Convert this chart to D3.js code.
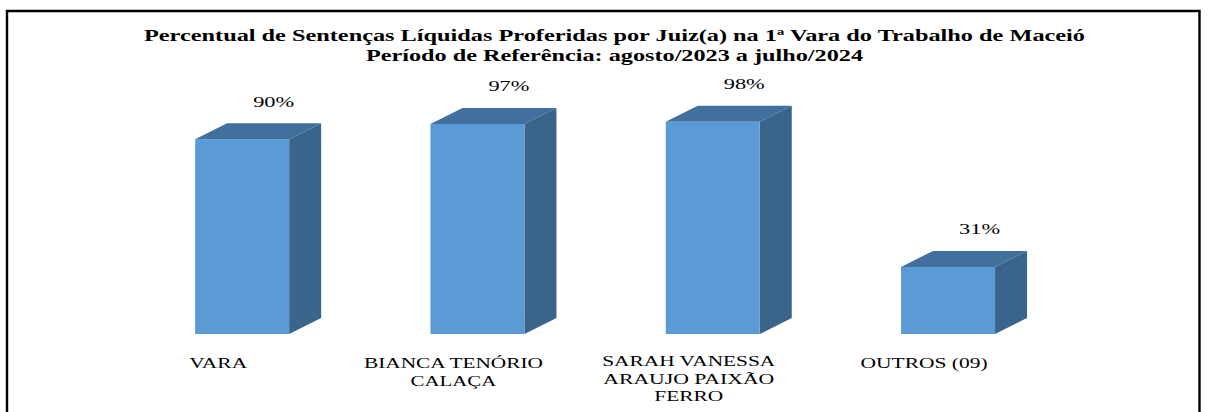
<!DOCTYPE html>
<html><head><meta charset="utf-8">
<script src="https://cdn.jsdelivr.net/npm/d3@7"></script>
<style>html,body{margin:0;padding:0;background:#fff}svg{display:block}text{font-family:"Liberation Serif",serif;fill:#000}</style>
</head><body><svg id="c" width="1209" height="412"></svg>
<script>
const categories = ["VARA", "BIANCA TENÓRIO CALAÇA", "SARAH VANESSA ARAUJO PAIXÃO FERRO", "OUTROS (09)"];
const values = [90, 97, 98, 31];
const valueLabels = ["90%", "97%", "98%", "31%"];
const categoryLines = [["VARA"], ["BIANCA TENÓRIO", "CALAÇA"], ["SARAH VANESSA", "ARAUJO PAIXÃO", "FERRO"], ["OUTROS (09)"]];
const titleLines = ["Percentual de Sentenças Líquidas Proferidas por Juiz(a) na 1ª Vara do Trabalho de Maceió", "Período de Referência: agosto/2023 a julho/2024"];

const W = 1209, H = 412;
const svg = d3.select("#c");
const plot = {left: 124.5, top: 117.5, bottom: 334};
const x = d3.scaleBand().domain(categories).range([plot.left, plot.left + 4 * 235.3]).paddingInner(0.6).paddingOuter(0.3);
const y = d3.scaleLinear().domain([0, 100]).range([plot.bottom, plot.top]);
const dx = 32, dy = 16;
const bw = 94;
const barX = c => x(c) + x.bandwidth() / 2 - bw / 2;

// frame
svg.append("path").attr("d", `M7,${H} V11 H1199.5 V${H}`).attr("fill", "none").attr("stroke", "#000").attr("stroke-width", 2.4);

// title
const titleWidths = [941, 497];
svg.selectAll(".t").data(titleLines).join("text").attr("class", "t")
  .attr("x", 614.5).attr("y", (d, i) => 41 + i * 20)
  .attr("text-anchor", "middle").attr("font-weight", "bold").attr("font-size", 16.5)
  .attr("textLength", (d, i) => titleWidths[i]).attr("lengthAdjust", "spacingAndGlyphs")
  .text(d => d);

const rows = categories.map((c, i) => ({c, v: values[i], label: valueLabels[i], lines: categoryLines[i]}));
const g = svg.selectAll(".bar").data(rows).join("g").attr("class", "bar");
g.append("path").attr("fill", "#416f9e").attr("d", d => { const l = barX(d.c), t = y(d.v);
  return `M${l},${t} L${l + dx},${t - dy} H${l + bw + dx} L${l + bw},${t} Z`; });
g.append("path").attr("fill", "#3a6489").attr("d", d => { const l = barX(d.c) + bw, t = y(d.v), b = y(0);
  return `M${l},${t} L${l + dx},${t - dy} V${b - dy} L${l},${b} Z`; });
g.append("rect").attr("fill", "#5b9bd5").attr("x", d => barX(d.c)).attr("y", d => y(d.v)).attr("width", bw).attr("height", d => y(0) - y(d.v));

g.append("text").attr("x", d => barX(d.c) + bw / 2 + 31.5).attr("y", d => y(d.v) - 32.5)
  .attr("text-anchor", "middle").attr("font-size", 15).attr("textLength", 41).attr("lengthAdjust", "spacingAndGlyphs").text(d => d.label);

const lineWidths = [[58], [179, 86], [173, 171, 69], [127]];
g.each(function (d, i) {
  d3.select(this).selectAll(".cat").data(d.lines).join("text").attr("class", "cat")
    .attr("x", barX(d.c) + bw / 2 - 24).attr("y", (l, k) => (i === 2 ? 366 : 368) + k * 17.5)
    .attr("text-anchor", "middle").attr("font-size", 14.5)
    .attr("textLength", (l, k) => lineWidths[i][k]).attr("lengthAdjust", "spacingAndGlyphs")
    .text(l => l);
});
</script></body></html>
